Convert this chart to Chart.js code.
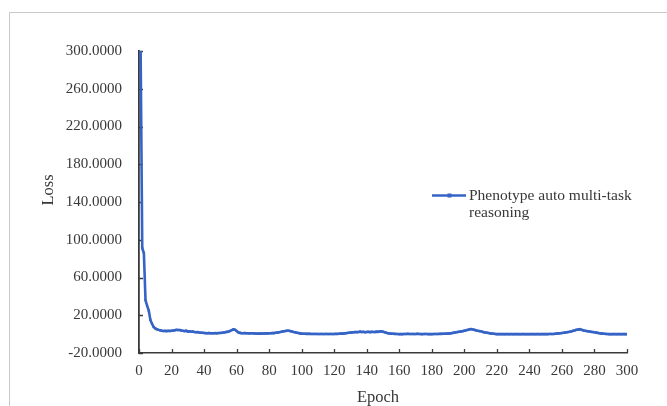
<!DOCTYPE html>
<html><head><meta charset="utf-8">
<script src="https://cdn.jsdelivr.net/npm/chart.js@4.4.1/dist/chart.umd.min.js"></script>
<style>html,body{margin:0;padding:0;background:#fff;overflow:hidden}canvas{display:block}</style>
</head><body>
<canvas id="c" width="667" height="406"></canvas>
<script>
const seriesLabel = 'Phenotype auto multi-task reasoning';
const xTitle = 'Epoch';
const yTitle = 'Loss';
const xTicks = [0,20,40,60,80,100,120,140,160,180,200,220,240,260,280,300];
const yTicks = [-20,20,60,100,140,180,220,260,300];
const epochs = Array.from({length:300}, (_, i) => i + 1);
const loss = [
 300, 91, 86, 36, 30, 25, 15, 11, 7.5, 6,
 5.2, 4.5, 4, 3.6, 3.3, 3.4, 3.2, 3.5, 3.3, 3.6,
 3.8, 4.1, 4.5, 4.3, 4.4, 3.9, 3.5, 3.2, 3.6, 2.7,
 3.0, 2.6, 2.8, 2.3, 2.0, 2.2, 1.7, 1.5, 1.4, 1.2,
 1.1, 1.0, 1.2, 0.9, 0.9, 1.0, 1.1, 0.9, 1.2, 1.2,
 1.4, 1.7, 2.0, 2.4, 2.6, 3.4, 4.3, 5.0, 4.6, 3.3,
 2.0, 1.3, 1.1, 1.0, 1.2, 0.9, 1.0, 0.8, 0.9, 0.9,
 0.7, 0.6, 0.5, 0.6, 0.5, 0.7, 0.6, 0.9, 0.8, 0.9,
 1.0, 1.2, 1.1, 1.4, 1.6, 2.0, 2.3, 2.7, 3.0, 3.3,
 3.6, 3.6, 3.2, 2.8, 2.3, 1.9, 1.5, 1.2, 0.8, 0.5,
 0.4, 0.4, 0.3, 0.3, 0.3, 0.2, 0.2, 0.2, 0.2, 0.1,
 0.1, 0.2, 0.1, 0.1, 0.2, 0.1, 0.1, 0.2, 0.1, 0.1,
 0.3, 0.2, 0.4, 0.5, 0.5, 0.8, 0.9, 1.2, 1.4, 1.6,
 1.9, 2.0, 2.3, 2.1, 2.3, 2.6, 2.2, 2.4, 2.0, 2.3,
 2.5, 2.1, 2.4, 2.3, 2.2, 2.6, 2.4, 2.8, 2.9, 2.6,
 2.0, 1.4, 1.0, 0.7, 0.5, 0.4, 0.3, 0.2, 0.1, 0.0,
 0.1, 0.0, 0.2, 0.1, 0.3, 0.2, 0.1, 0.2, 0.1, 0.1,
 0.3, 0.2, 0.1, 0.0, 0.1, 0.2, 0.1, 0.0, 0.1, 0.0,
 0.1, 0.2, 0.1, 0.2, 0.3, 0.3, 0.4, 0.4, 0.5, 0.5,
 0.8, 1.0, 1.3, 1.7, 2.0, 2.3, 2.6, 2.9, 3.2, 3.6,
 4.0, 4.5, 5.0, 5.4, 5.0, 4.6, 4.0, 3.6, 3.3, 3.0,
 2.6, 2.0, 1.7, 1.4, 1.1, 0.8, 0.6, 0.4, 0.2, 0.0,
 0.1, 0.0, 0.1, 0.0, 0.0, 0.1, 0.0, 0.0, 0.1, 0.0,
 0.0, 0.1, 0.0, 0.0, 0.0, 0.1, 0.0, 0.0, 0.0, 0.0,
 0.0, 0.1, 0.0, 0.0, 0.1, 0.0, 0.0, 0.1, 0.0, 0.1,
 0.0, 0.1, 0.2, 0.1, 0.2, 0.4, 0.6, 0.8, 1.0, 1.2,
 1.4, 1.7, 2.0, 2.3, 2.6, 3.0, 3.5, 4.0, 4.6, 4.8,
 5.2, 4.6, 4.0, 3.6, 3.3, 3.0, 2.7, 2.4, 2.2, 2.0,
 1.6, 1.3, 1.0, 0.8, 0.5, 0.4, 0.2, 0.1, 0.0, 0.0,
 0.0, 0.1, 0.0, 0.0, 0.1, 0.0, 0.0, 0.1, 0.0, 0.0
];

const FONT = "'Liberation Serif', 'Times New Roman', serif";
const TEXT = '#383838';
const AXIS = '#3a3a3a';
const BLUE = '#3564c6';

const extras = {
  id: 'extras',
  beforeDraw(chart) {
    const c = chart.ctx;
    c.save();
    c.fillStyle = '#fff';
    c.fillRect(0, 0, chart.width, chart.height);
    c.strokeStyle = '#c8c8c8';
    c.lineWidth = 1;
    c.beginPath();
    c.moveTo(9.5, chart.height);
    c.lineTo(9.5, 12.5);
    c.lineTo(chart.width, 12.5);
    c.stroke();
    c.restore();
  },
  beforeDatasetsDraw(chart) {
    const c = chart.ctx, xs = chart.scales.x, ys = chart.scales.y;
    c.save();
    c.strokeStyle = AXIS;
    c.lineWidth = 1.3;
    c.beginPath();
    ys.ticks.forEach(t => {
      const py = Math.round(ys.getPixelForValue(t.value)) + 0.5;
      c.moveTo(xs.left, py); c.lineTo(xs.left + 4, py);
    });
    xs.ticks.forEach(t => {
      const px = Math.round(xs.getPixelForValue(t.value)) + 0.5;
      c.moveTo(px, ys.bottom); c.lineTo(px, ys.bottom - 4);
    });
    c.stroke();
    c.restore();
  },
  afterDraw(chart) {
    const c = chart.ctx;
    const ds = chart.data.datasets[0];
    c.save();
    c.fillStyle = TEXT;
    c.font = "16.5px " + FONT;
    c.textAlign = 'center';
    c.textBaseline = 'alphabetic';
    c.fillText(xTitle, 378, 401.5);
    c.save();
    c.translate(53, 190);
    c.rotate(-Math.PI / 2);
    c.fillText(yTitle, 0, 0);
    c.restore();
    const ly = 195.5;
    c.strokeStyle = ds.borderColor;
    c.lineWidth = ds.borderWidth;
    c.beginPath(); c.moveTo(432, ly); c.lineTo(466, ly); c.stroke();
    c.fillStyle = ds.borderColor;
    c.fillRect(447.5, ly - 2, 4, 4);
    c.font = "15.5px " + FONT;
    c.fillStyle = TEXT;
    c.textAlign = 'left';
    c.textBaseline = 'middle';
    const words = ds.label.split(' ');
    const lines = [];
    let cur = '';
    words.forEach(w => {
      const t = cur ? cur + ' ' + w : w;
      if (c.measureText(t).width > 180 && cur) { lines.push(cur); cur = w; } else cur = t;
    });
    if (cur) lines.push(cur);
    lines.forEach((l, i) => c.fillText(l, 469, ly + 0.5 + i * 17));
    c.restore();
  }
};

new Chart(document.getElementById('c'), {
  type: 'line',
  data: {
    datasets: [{
      label: seriesLabel,
      data: epochs.map((e, i) => ({x: e, y: loss[i]})),
      borderColor: BLUE,
      backgroundColor: BLUE,
      borderWidth: 2.6,
      pointRadius: 1.6,
      pointStyle: 'rect',
      pointBorderWidth: 0,
      pointBackgroundColor: BLUE,
      tension: 0,
      fill: false
    }]
  },
  options: {
    responsive: false,
    animation: false,
    devicePixelRatio: 1,
    layout: { padding: { left: 0, right: 40, top: 51, bottom: 0 } },
    plugins: { legend: { display: false }, tooltip: { enabled: false }, title: { display: false } },
    scales: {
      x: {
        type: 'linear',
        min: xTicks[0], max: xTicks[xTicks.length - 1],
        afterBuildTicks: s => { s.ticks = xTicks.map(v => ({value: v})); },
        afterFit: s => { s.height = 53; },
        grid: { display: true, drawOnChartArea: false, drawTicks: false },
        border: { display: true, color: AXIS, width: 1.6 },
        ticks: { color: TEXT, padding: 9, maxRotation: 0, autoSkip: false,
          font: { family: FONT, size: 15 }, callback: v => String(v) }
      },
      y: {
        type: 'linear',
        min: yTicks[0], max: yTicks[yTicks.length - 1],
        afterBuildTicks: s => { s.ticks = yTicks.map(v => ({value: v})); },
        afterFit: s => { s.width = 139; },
        grid: { display: true, drawOnChartArea: false, drawTicks: false },
        border: { display: true, color: AXIS, width: 1.8 },
        ticks: { color: TEXT, padding: 17, autoSkip: false,
          font: { family: FONT, size: 15 }, callback: v => Number(v).toFixed(4) }
      }
    }
  },
  plugins: [extras]
});
</script>
</body></html>
